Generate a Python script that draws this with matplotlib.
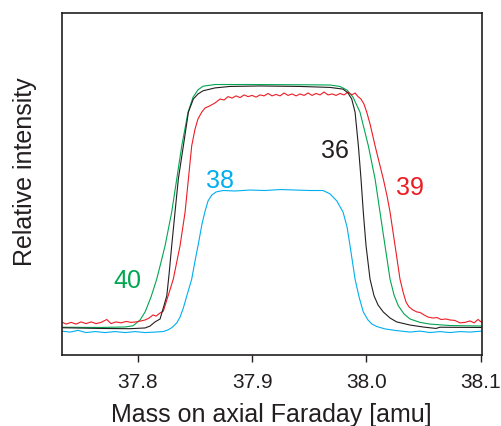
import matplotlib
matplotlib.use("Agg")
import matplotlib.pyplot as plt

plt.rcParams['font.family'] = ['Liberation Sans', 'DejaVu Sans']

# Mass [amu] / relative intensity (%)
mass_40 = [37.7333, 37.7670, 37.7889, 37.7959, 37.8020, 37.8064, 37.8116, 37.8166, 37.8204,
           37.8239, 37.8297, 37.8341, 37.8385, 37.8440, 37.8484, 37.8527, 37.8571, 37.8676,
           37.8982, 37.9420, 37.9682, 37.9769, 37.9831, 37.9883, 37.9944, 38.0017, 38.0076,
           38.0119, 38.0163, 38.0207, 38.0242, 38.0279, 38.0329, 38.0382, 38.0469, 38.0557,
           38.0732, 38.1009]
int_40 = [-0.1, -0.2, 0.0, 0.5, 2.9, 6.2, 12.4, 19.8, 26.9,
          33.6, 47.5, 61.2, 74.9, 88.8, 95.0, 98.0, 99.5, 100.2,
          100.2, 100.1, 100.0, 99.4, 97.9, 95.0, 88.8, 74.9, 61.2,
          47.5, 33.6, 19.8, 13.2, 8.8, 5.4, 3.3, 1.9, 1.2,
          0.6, 0.4]

mass_36 = [37.7333, 37.7670, 37.7933, 37.8064, 37.8108, 37.8151, 37.8195, 37.8226, 37.8254,
           37.8274, 37.8297, 37.8326, 37.8355, 37.8399, 37.8443, 37.8486, 37.8527, 37.8571,
           37.8676, 37.8807, 37.9070, 37.9420, 37.9682, 37.9796, 37.9839, 37.9872, 37.9901,
           37.9930, 37.9953, 37.9973, 37.9997, 38.0032, 38.0067, 38.0102, 38.0148, 38.0207,
           38.0265, 38.0382, 38.0496, 38.0609, 38.0644, 38.1009]
int_36 = [-0.3, -0.6, -0.7, -0.4, 0.4, 2.1, 3.3, 8.3, 12.9,
          21.9, 33.6, 47.5, 61.2, 74.9, 88.8, 94.2, 96.3, 97.6,
          98.8, 99.4, 99.6, 99.4, 99.0, 98.3, 96.7, 94.2, 88.8,
          74.9, 61.2, 47.5, 33.6, 19.8, 12.9, 9.1, 6.2, 3.7,
          2.1, 0.8, 0.0, -0.6, -0.1, -0.2]

mass_39 = [37.7333, 37.7373, 37.7417, 37.7460, 37.7504, 37.7548, 37.7592, 37.7635, 37.7679,
           37.7729, 37.7766, 37.7810, 37.7854, 37.7898, 37.7941, 37.7985, 37.8029, 37.8064,
           37.8099, 37.8134, 37.8160, 37.8195, 37.8224, 37.8265, 37.8311, 37.8370, 37.8414,
           37.8443, 37.8472, 37.8501, 37.8527, 37.8560, 37.8589, 37.8632, 37.8676, 37.8720,
           37.8755, 37.8790, 37.8825, 37.8860, 37.8895, 37.8930, 37.8965, 37.9000, 37.9035,
           37.9070, 37.9105, 37.9140, 37.9175, 37.9210, 37.9245, 37.9280, 37.9315, 37.9350,
           37.9385, 37.9420, 37.9455, 37.9490, 37.9525, 37.9560, 37.9595, 37.9630, 37.9665,
           37.9700, 37.9735, 37.9769, 37.9805, 37.9839, 37.9874, 37.9901, 37.9927, 37.9953,
           37.9979, 38.0003, 38.0032, 38.0076, 38.0111, 38.0148, 38.0181, 38.0207, 38.0251,
           38.0294, 38.0321, 38.0347, 38.0373, 38.0408, 38.0443, 38.0469, 38.0504, 38.0539,
           38.0583, 38.0618, 38.0653, 38.0697, 38.0732, 38.0775, 38.0819, 38.0863, 38.0907,
           38.0942, 38.0977, 38.1009]
int_39 = [2.1, 1.2, 1.9, 1.2, 2.1, 1.4, 2.1, 1.4, 1.9,
          3.1, 1.4, 2.1, 1.7, 2.3, 1.9, 2.1, 2.5, 2.9,
          3.7, 5.0, 4.5, 5.8, 6.6, 12.8, 19.8, 33.6, 47.5,
          61.2, 74.9, 81.8, 86.0, 88.8, 90.5, 91.4, 92.6, 94.2,
          93.8, 95.2, 94.6, 95.5, 94.8, 95.9, 95.2, 95.7, 95.0,
          95.9, 95.5, 96.5, 95.5, 96.1, 95.5, 96.7, 95.7, 96.3,
          95.5, 96.3, 95.7, 96.7, 95.7, 96.5, 95.9, 97.1, 95.9,
          96.3, 95.7, 96.5, 95.9, 97.1, 95.9, 96.7, 95.2, 94.2,
          92.1, 88.8, 83.9, 74.9, 68.2, 61.2, 54.1, 47.5, 33.6,
          19.8, 14.5, 10.3, 8.3, 7.0, 6.2, 6.0, 5.0, 4.1,
          3.7, 3.9, 3.1, 3.3, 2.9, 2.7, 1.7, 1.9, 2.5,
          1.7, 3.1, 1.9]

mass_38 = [37.7333, 37.7408, 37.7478, 37.7548, 37.7627, 37.7714, 37.7801, 37.7889, 37.7976,
           37.8064, 37.8151, 37.8221, 37.8265, 37.8300, 37.8341, 37.8370, 37.8399, 37.8431,
           37.8472, 37.8501, 37.8530, 37.8562, 37.8589, 37.8615, 37.8647, 37.8685, 37.8746,
           37.8851, 37.8982, 37.9113, 37.9245, 37.9376, 37.9507, 37.9621, 37.9682, 37.9741,
           37.9796, 37.9831, 37.9857, 37.9901, 37.9936, 37.9973, 38.0014, 38.0049, 38.0091,
           38.0163, 38.0265, 38.0382, 38.0469, 38.0557, 38.0644, 38.0732, 38.0819, 38.0907,
           38.1009]
int_38 = [-1.7, -2.1, -1.4, -2.3, -1.9, -2.3, -1.9, -2.3, -1.9,
          -2.3, -2.1, -1.9, -1.2, -0.2, 1.7, 4.1, 7.9, 13.2,
          19.8, 27.3, 34.3, 42.6, 47.9, 52.1, 54.5, 55.8, 56.4,
          56.2, 56.6, 56.4, 56.8, 56.6, 56.4, 56.4, 55.0, 52.1,
          47.5, 41.3, 33.6, 19.8, 12.4, 6.2, 2.9, 1.2, 0.2,
          -0.8, -1.5, -2.1, -1.7, -2.3, -1.9, -2.3, -1.9, -2.1,
          -1.7]

series = [
    (mass_40, int_40, '#00A651'),
    (mass_39, int_39, '#ED1C24'),
    (mass_36, int_36, '#231F20'),
    (mass_38, int_38, '#00AEEF'),
]

labels = ['40', '38', '36', '39']
label_mass = [37.7906, 37.8720, 37.9727, 38.0382]
label_int = [19.4, 60.7, 73.1, 57.9]
label_colors = ['#00A651', '#00AEEF', '#231F20', '#ED1C24']

xticks = [37.8, 37.9, 38.0, 38.1]
xtick_labels = ['37.8', '37.9', '38.0', '38.1']

fig = plt.figure(figsize=(5.01, 4.27), dpi=100)
ax = fig.add_axes([0.1228, 0.1663, 0.8387, 0.8009])

for m, v, c in series:
    ax.plot(m, v, color=c, lw=0.8)

for t, xm, yv, c in zip(labels, label_mass, label_int, label_colors):
    ax.text(xm, yv, t, color=c, fontsize=18, ha='center', va='center')

ax.set_xlim(37.7333, 38.1009)
ax.set_ylim(-11.57, 129.75)
ax.set_xticks(xticks)
ax.set_xticklabels(xtick_labels)
ax.set_yticks([])
ax.tick_params(axis='x', direction='out', length=5, width=1.0, labelsize=15, pad=7,
               colors='#231F20')
for s in ax.spines.values():
    s.set_linewidth(1.2)
    s.set_color('#231F20')

ax.set_xlabel('Mass on axial Faraday [amu]', fontsize=18, color='#231F20', labelpad=8)
ax.set_ylabel('Relative intensity', fontsize=18, color='#231F20')
ax.yaxis.set_label_coords(-0.058, 0.54)

fig.savefig('out.png', dpi=100)
